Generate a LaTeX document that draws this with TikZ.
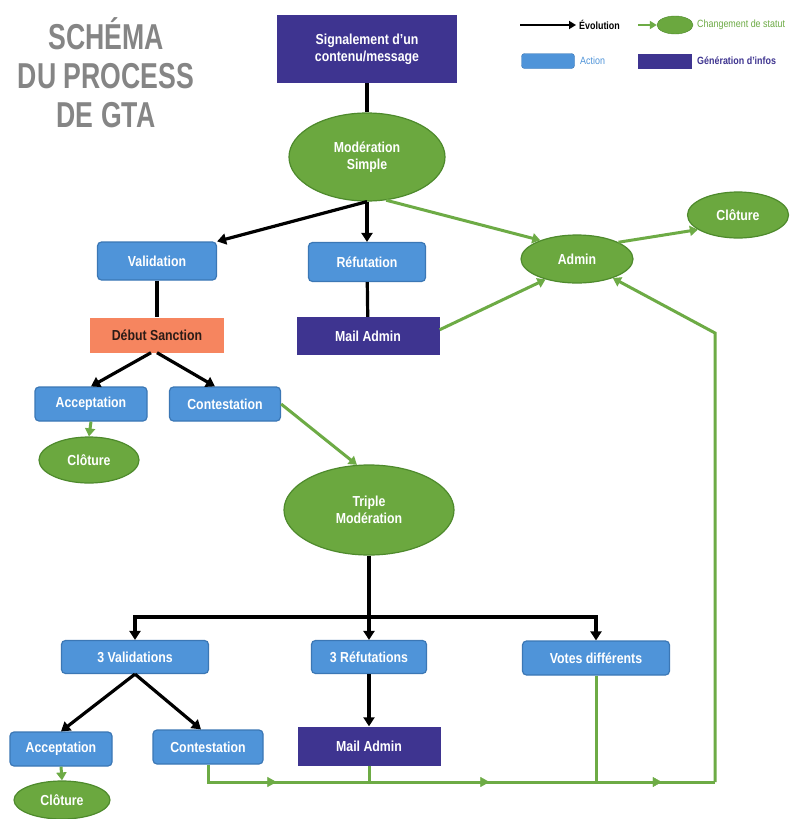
\documentclass[tikz,border=0pt]{standalone}
\usepackage{fontspec}
\setmainfont{Liberation Sans}[FakeStretch=0.85]
\newfontfamily\titlefont{Liberation Sans}[FakeStretch=0.74]
\usetikzlibrary{arrows.meta,shapes.geometric,calc,decorations.markings}
\definecolor{gfill}{HTML}{6BA83F}
\definecolor{gdraw}{HTML}{4E8A2C}
\definecolor{gline}{HTML}{6DAB45}
\definecolor{bfill}{HTML}{4F94D9}
\definecolor{bdraw}{HTML}{3B77B5}
\definecolor{pfill}{HTML}{3E3490}
\definecolor{sfill}{HTML}{F6855F}
\definecolor{tgray}{HTML}{858585}
\definecolor{sdark}{HTML}{2B1B17}
\tikzset{
  lbl/.style={font=\bfseries\fontsize{14.5}{17}\selectfont, align=center, inner sep=0pt},
  act/.style={lbl, draw=bdraw, fill=bfill, rounded corners=4pt, line width=1.2pt, text=white},
  stat/.style={lbl, ellipse, draw=gdraw, fill=gfill, line width=1.2pt, text=white},
  info/.style={lbl, fill=pfill, text=white},
  sanc/.style={lbl, fill=sfill, text=sdark},
  blk/.style={line width=3.2pt, black},
  blkar/.style={blk, -{Triangle[length=9pt,width=11pt]}},
  grn/.style={line width=3pt, gline},
  grnar/.style={grn, -{Triangle[length=8pt,width=10pt]}},
  legtxt/.style={font=\fontsize{10.5}{12}\selectfont, anchor=west, inner sep=0pt},
}
\begin{document}
\begin{tikzpicture}[x=1pt,y=-1pt]
\useasboundingbox (0,0) rectangle (792,819);
\fill[white] (0,0) rectangle (792,819);
% title
\node[text=tgray, font=\titlefont\bfseries\fontsize{36}{39}\selectfont, align=center, inner sep=0pt] (title) at (106,73) {SCHÉMA\\DU PROCESS\\DE GTA};
% legend
\coordinate (lg1) at (520,25);
\node[legtxt, font=\bfseries\fontsize{10.5}{12}\selectfont, text=black] (lgevo) at (579,25) {Évolution};
\draw[blk, line width=2.4pt, -{Triangle[length=7pt,width=8pt]}] (lg1) -- ($(lgevo.west)+(-3,0)$);
\node[ellipse, fill=gfill, draw=gdraw, minimum width=36pt, minimum height=18pt, inner sep=0pt] (lgell) at (675,25) {};
\coordinate (lg2) at (638,25);
\draw[grn, line width=2.2pt, -{Triangle[length=7pt,width=8pt]}] (lg2) -- (lgell.west);
\node[legtxt, text=gline] (lgchg) at (697,25) {Changement de statut};
\node[draw=bdraw, fill=bfill, rounded corners=3pt, minimum width=53pt, minimum height=15pt, inner sep=0pt] (lgact) at (548,61) {};
\node[legtxt, text=bfill] at (580,61) {Action};
\node[fill=pfill, minimum width=54pt, minimum height=15pt, inner sep=0pt] (lggen) at (665,61) {};
\node[legtxt, font=\bfseries\fontsize{10.5}{12}\selectfont, text=pfill] at (697,61) {Génération d'infos};
% nodes
\node[info, minimum width=180pt, minimum height=68pt] (sig) at (367,49) {Signalement d'un\\contenu/message};
\node[stat, minimum width=156pt, minimum height=88pt] (ms) at (367,157) {Modération\\Simple};
\node[act, minimum width=119pt, minimum height=38pt] (val) at (157,261) {Validation};
\node[act, minimum width=117pt, minimum height=39pt] (ref) at (367,262) {Réfutation};
\node[stat, minimum width=112pt, minimum height=48pt] (adm) at (577,259) {Admin};
\node[stat, minimum width=101pt, minimum height=46pt] (clo0) at (738,215) {Clôture};
\node[sanc, minimum width=134pt, minimum height=35pt] (deb) at (157,335) {Début Sanction};
\node[info, minimum width=143pt, minimum height=38pt] (ma1) at (368,336) {Mail Admin};
\node[act, minimum width=112pt, minimum height=34pt] (acc1) at (91,404) {Acceptation};
\node[act, minimum width=111pt, minimum height=34pt] (con1) at (225,404) {Contestation};
\node[stat, minimum width=100pt, minimum height=46pt] (clo1) at (89,460) {Clôture};
\node[stat, minimum width=170pt, minimum height=90pt] (tm) at (369,510) {Triple\\Modération};
\node[act, minimum width=147pt, minimum height=33pt] (v3) at (135,657) {3 Validations};
\node[act, minimum width=115pt, minimum height=33pt] (r3) at (369,657) {3 Réfutations};
\node[act, minimum width=147pt, minimum height=34pt] (vd) at (596,658) {Votes différents};
\node[act, minimum width=102pt, minimum height=34pt] (acc2) at (61,749) {Acceptation};
\node[act, minimum width=110pt, minimum height=34pt] (con2) at (208,747) {Contestation};
\node[info, minimum width=143pt, minimum height=39pt] (ma2) at (369,746) {Mail Admin};
\node[stat, minimum width=96pt, minimum height=38pt] (clo2) at (62,800) {Clôture};
% connectors
\draw[blk] (sig) -- (ms);
\draw[blkar] (ms.south) -- (val.north east);
\draw[blkar] (ms.south) -- (ref.north);
\draw[grnar] (ms.-66) -- (adm.153);
\draw[grnar] (adm.22) -- (clo0.200);
\draw[blk] (val) -- (deb);
\draw[blk] (ref) -- (ma1);
\draw[grnar] (ma1.5) -- (adm.213);
\coordinate (r1) at (715,782);
\coordinate (r2) at (715,333);
\draw[grnar, line join=miter] (r1) -- (r2) -- (adm.-28.5);
\draw[blkar] ($(deb.south)+(-6,0)$) -- (acc1.north);
\draw[blkar] ($(deb.south)+(0,0)$) -- ($(con1.north)+(-10,0)$);
\draw[grnar] (acc1.south) -- (clo1.north);
\draw[grnar] (con1.east) -- (tm.105);
\coordinate (br) at (369,617);
\draw[blkar] (tm.south) -- (r3.north);
\draw[blkar] (br) -| (v3.north);
\draw[blkar] (br) -| (vd.north);
\draw[blkar] (v3.south) -- (acc2.north);
\draw[blkar] (v3.south) -- ($(con2.north)+(-7,0)$);
\draw[blkar] (r3.south) -- (ma2.north);
\draw[grnar] (acc2.south) -- (clo2.north);
\coordinate (b1) at (con2.south |- r1);
\draw[grn, line join=miter] (con2.south) -- (b1) -- (r1);
\path[decoration={markings,
  mark=at position 0.135 with {\arrow[gline]{Triangle[length=9pt,width=10pt]}},
  mark=at position 0.555 with {\arrow[gline]{Triangle[length=9pt,width=10pt]}},
  mark=at position 0.895 with {\arrow[gline]{Triangle[length=9pt,width=10pt]}}},
  decorate] (b1) -- (r1);
\draw[grn] (ma2.south) -- (ma2.south |- r1);
\draw[grn] (vd.south) -- (vd.south |- r1);
\end{tikzpicture}
\end{document}
